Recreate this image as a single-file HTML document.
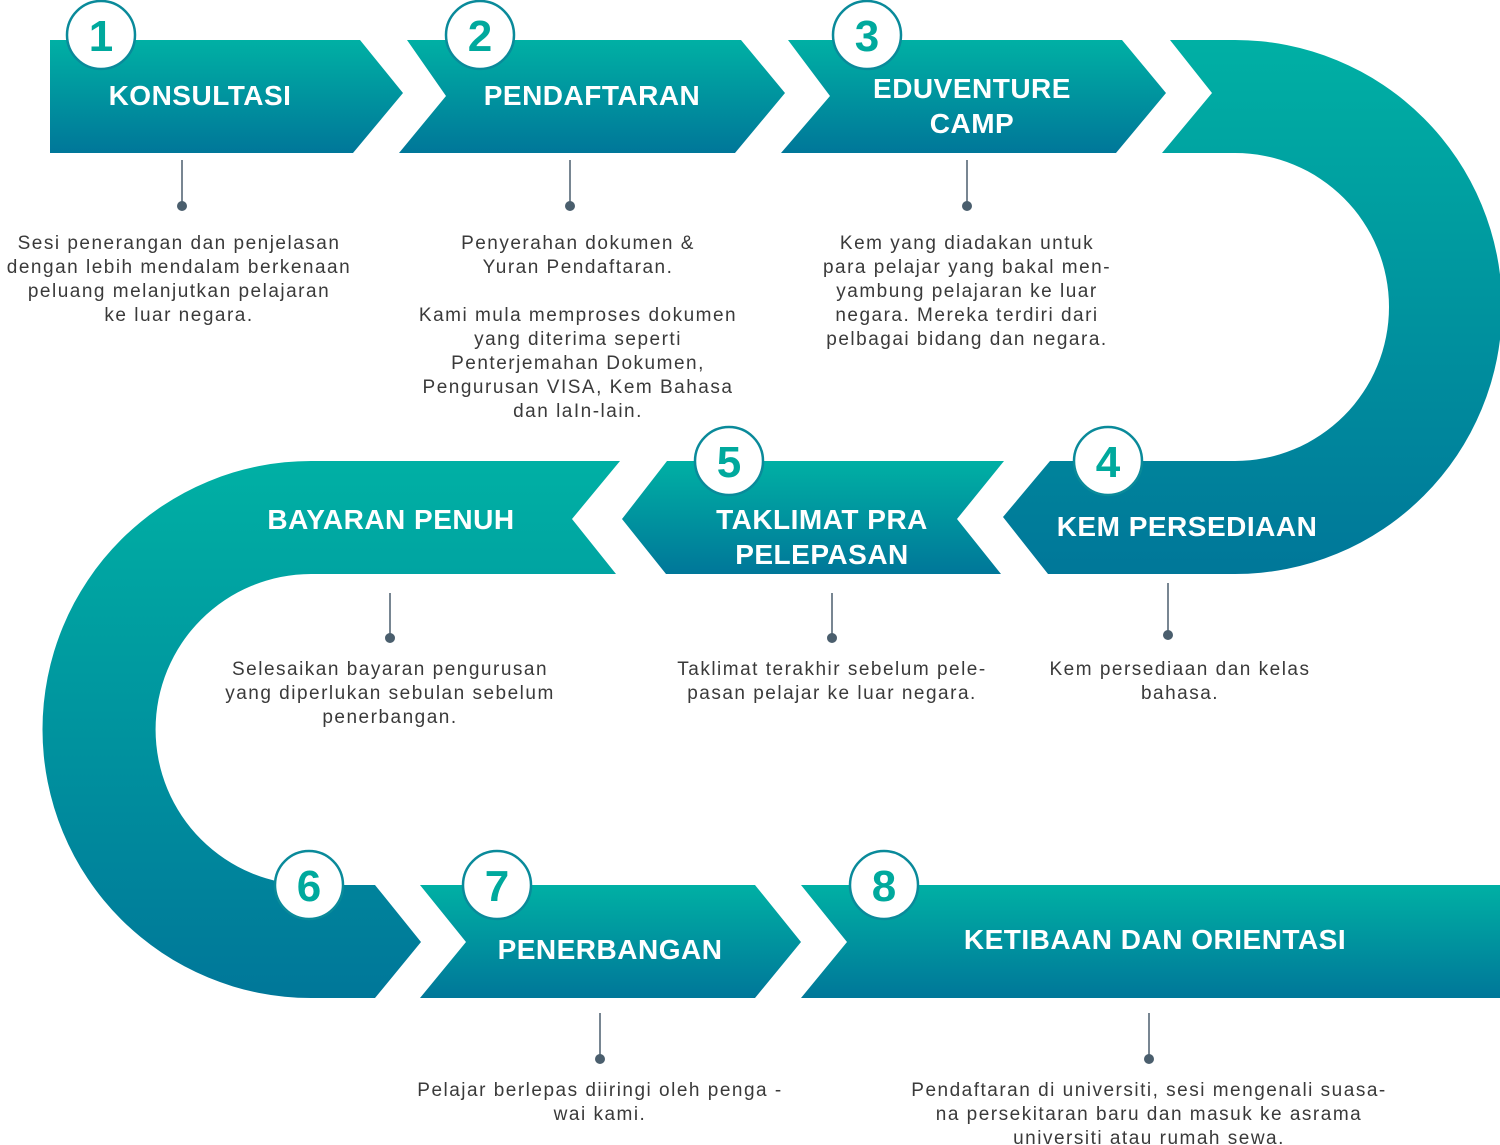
<!DOCTYPE html>
<html><head><meta charset="utf-8"><style>
html,body{margin:0;padding:0;background:#fff;}
svg{display:block;}
.h{font-family:"Liberation Sans",sans-serif;font-weight:bold;font-size:28px;fill:#fff;text-anchor:middle;letter-spacing:0.5px;}
.n{font-family:"Liberation Sans",sans-serif;font-weight:bold;font-size:44px;fill:#00a99d;text-anchor:middle;}
.d{font-family:"Liberation Sans",sans-serif;font-size:19px;fill:#3a3a3a;text-anchor:middle;letter-spacing:1.5px;}
</style></head><body>
<svg width="1500" height="1145" viewBox="0 0 1500 1145" xmlns="http://www.w3.org/2000/svg">
<defs>
<linearGradient id="g1" x1="0" y1="0" x2="0" y2="1"><stop offset="0" stop-color="#00b0a4"/><stop offset="1" stop-color="#007799"/></linearGradient>
<linearGradient id="gc" gradientUnits="userSpaceOnUse" x1="0" y1="40" x2="0" y2="574"><stop offset="0" stop-color="#00b0a4"/><stop offset="1" stop-color="#007799"/></linearGradient>
<linearGradient id="gc2" gradientUnits="userSpaceOnUse" x1="0" y1="461" x2="0" y2="998"><stop offset="0" stop-color="#00b0a4"/><stop offset="1" stop-color="#007799"/></linearGradient>
</defs>
<polygon fill="url(#g1)" points="50,40 360,40 403,93 353,153 50,153"/>
<polygon fill="url(#g1)" points="407,40 741,40 785,93 735,153 399,153 446,96"/>
<polygon fill="url(#g1)" points="788,40 1122,40 1166,93 1116,153 781,153 830,96"/>
<path fill="url(#gc)" d="M1170,40 L1235,40 A267,267 0 0 1 1235,574 L1048,574 L1003,517 L1050,461 L1235,461 A154,154 0 0 0 1235,153 L1162,153 L1212,93 Z"/>
<polygon fill="url(#g1)" points="667,461 1004,461 957,519 1001,574 666,574 622,519"/>
<path fill="url(#gc2)" d="M620,461 L311,461 A268.5,268.5 0 0 0 311,998 L375,998 L421,942 L375,885 L311,885 A155.5,155.5 0 0 1 311,574 L616,574 L572,519 Z"/>
<polygon fill="url(#g1)" points="420,885 755,885 801,942 755,998 420,998 466,942"/>
<polygon fill="url(#g1)" points="801,885 1500,885 1500,998 801,998 847,942"/>

<text class="h" x="200" y="105">KONSULTASI</text>
<text class="h" x="592" y="105">PENDAFTARAN</text>
<text class="h" x="972" y="98">EDUVENTURE</text>
<text class="h" x="972" y="133">CAMP</text>
<text class="h" x="1187" y="536">KEM PERSEDIAAN</text>
<text class="h" x="822" y="529">TAKLIMAT PRA</text>
<text class="h" x="822" y="564">PELEPASAN</text>
<text class="h" x="391" y="529">BAYARAN PENUH</text>
<text class="h" x="610" y="959">PENERBANGAN</text>
<text class="h" x="1155" y="949">KETIBAAN DAN ORIENTASI</text>

<g fill="#fff" stroke="#0a8a9a" stroke-width="2.5">
<circle cx="101" cy="35" r="34"/><circle cx="480" cy="35" r="34"/><circle cx="867" cy="35" r="34"/>
<circle cx="1108" cy="461" r="34"/><circle cx="729" cy="461" r="34"/>
<circle cx="309" cy="885" r="34"/><circle cx="497" cy="885" r="34"/><circle cx="884" cy="885" r="34"/>
</g>
<text class="n" x="101" y="51">1</text><text class="n" x="480" y="51">2</text><text class="n" x="867" y="51">3</text>
<text class="n" x="1108" y="477">4</text><text class="n" x="729" y="477">5</text>
<text class="n" x="309" y="901">6</text><text class="n" x="497" y="901">7</text><text class="n" x="884" y="901">8</text>

<g stroke="#4a5e6d" stroke-width="1.5">
<line x1="182" y1="160" x2="182" y2="206"/><line x1="570" y1="160" x2="570" y2="206"/><line x1="967" y1="160" x2="967" y2="206"/>
<line x1="1168" y1="583" x2="1168" y2="635"/><line x1="832" y1="593" x2="832" y2="638"/><line x1="390" y1="593" x2="390" y2="638"/>
<line x1="600" y1="1013" x2="600" y2="1059"/><line x1="1149" y1="1013" x2="1149" y2="1059"/>
</g>
<g fill="#4a5e6d">
<circle cx="182" cy="206" r="5"/><circle cx="570" cy="206" r="5"/><circle cx="967" cy="206" r="5"/>
<circle cx="1168" cy="635" r="5"/><circle cx="832" cy="638" r="5"/><circle cx="390" cy="638" r="5"/>
<circle cx="600" cy="1059" r="5"/><circle cx="1149" cy="1059" r="5"/>
</g>

<text class="d" x="179" y="249">Sesi penerangan dan penjelasan</text>
<text class="d" x="179" y="273">dengan lebih mendalam berkenaan</text>
<text class="d" x="179" y="297">peluang melanjutkan pelajaran</text>
<text class="d" x="179" y="321">ke luar negara.</text>

<text class="d" x="578" y="249">Penyerahan dokumen &amp;</text>
<text class="d" x="578" y="273">Yuran Pendaftaran.</text>
<text class="d" x="578" y="321">Kami mula memproses dokumen</text>
<text class="d" x="578" y="345">yang diterima seperti</text>
<text class="d" x="578" y="369">Penterjemahan Dokumen,</text>
<text class="d" x="578" y="393">Pengurusan VISA, Kem Bahasa</text>
<text class="d" x="578" y="417">dan laIn-lain.</text>

<text class="d" x="967" y="249">Kem yang diadakan untuk</text>
<text class="d" x="967" y="273">para pelajar yang bakal men-</text>
<text class="d" x="967" y="297">yambung pelajaran ke luar</text>
<text class="d" x="967" y="321">negara. Mereka terdiri dari</text>
<text class="d" x="967" y="345">pelbagai bidang dan negara.</text>

<text class="d" x="1180" y="675">Kem persediaan dan kelas</text>
<text class="d" x="1180" y="699">bahasa.</text>

<text class="d" x="832" y="675">Taklimat terakhir sebelum pele-</text>
<text class="d" x="832" y="699">pasan pelajar ke luar negara.</text>

<text class="d" x="390" y="675">Selesaikan bayaran pengurusan</text>
<text class="d" x="390" y="699">yang diperlukan sebulan sebelum</text>
<text class="d" x="390" y="723">penerbangan.</text>

<text class="d" x="600" y="1096">Pelajar berlepas diiringi oleh penga -</text>
<text class="d" x="600" y="1120">wai kami.</text>

<text class="d" x="1149" y="1096">Pendaftaran di universiti, sesi mengenali suasa-</text>
<text class="d" x="1149" y="1120">na persekitaran baru dan masuk ke asrama</text>
<text class="d" x="1149" y="1144">universiti atau rumah sewa.</text>
</svg>
</body></html>
